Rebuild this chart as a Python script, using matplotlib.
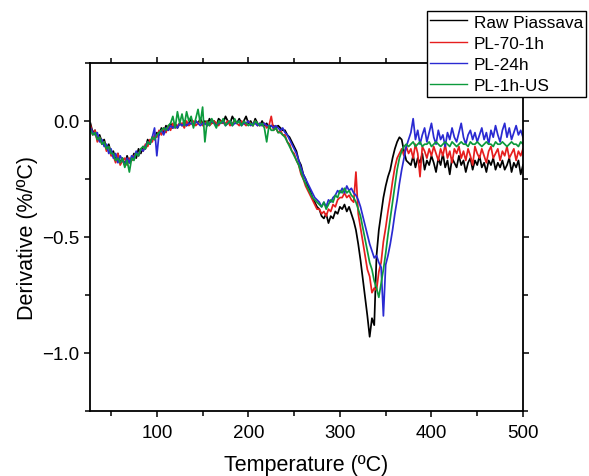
import numpy as np
import matplotlib
matplotlib.use("Agg")
import matplotlib.pyplot as plt
from matplotlib.ticker import MultipleLocator

plt.rcParams['font.family'] = ['Liberation Sans', 'DejaVu Sans']

# Temperature grid (ºC), sampled every 2.5 ºC
t_start, t_stop, t_step = 27.5, 500.0, 2.5
temperature = np.arange(t_start, t_stop + t_step / 2, t_step)

# Derivative values, in hundredths of %/ºC
raw_piassava = [
    -1, -5, -4, -8, -6, -9, -8, -12, -10, -14,
    -13, -17, -14, -18, -16, -19, -15, -18, -17, -14,
    -16, -12, -14, -11, -12, -8, -10, -7, -8, -5,
    -6, -3, -5, -2, -4, -1, -3, -1, -3, -1,
    -2, 0, -2, -1, 1, -2, 0, -1, 1, -1,
    0, -2, 1, -1, 0, -2, 1, 0, -1, 2,
    0, -1, 2, 0, -1, 1, -1, 0, 2, -1,
    0, -2, 1, -1, -2, 0, -2, -1, -3, -2,
    -2, -3, -2, -3, -4, -4, -6, -7, -9, -11,
    -13, -17, -19, -23, -25, -28, -30, -33, -35, -37,
    -38, -41, -42, -40, -44, -41, -42, -39, -40, -37,
    -38, -36, -39, -37, -40, -43, -47, -53, -60, -68,
    -76, -84, -93, -85, -88, -58, -47, -40, -33, -28,
    -24, -21, -16, -12, -9, -7, -8, -13, -17, -18,
    -19, -15, -20, -16, -18, -14, -21, -17, -19, -15,
    -18, -22, -16, -19, -14, -20, -17, -23, -16, -18,
    -20, -15, -19, -17, -22, -18, -16, -21, -17, -19,
    -15, -20, -18, -22, -17, -19, -16, -21, -18, -20,
    -17, -21, -19, -16, -22, -18, -20, -17, -23, -19,
]
pl_70_1h = [
    -2, -6, -4, -9, -7, -10, -9, -13, -11, -15,
    -15, -18, -14, -19, -17, -16, -19, -16, -17, -15,
    -14, -15, -12, -13, -10, -11, -8, -9, -6, -7,
    -4, -6, -3, -5, -2, -4, -1, -3, -2, -1,
    -1, -3, 0, -2, -1, 0, -2, -1, 0, -2,
    -1, 0, -2, -1, 0, -1, -2, 0, -1, -1,
    0, -2, -1, 0, -1, -2, 0, -1, -2, 0,
    -1, -2, 0, -2, -1, -2, -1, -3, -2, 2,
    -4, -3, -5, -4, -6, -6, -9, -10, -13, -14,
    -17, -19, -23, -25, -28, -30, -32, -34, -36, -38,
    -38, -40, -39, -41, -38, -39, -36, -37, -34, -33,
    -33, -31, -33, -32, -34, -35, -22, -40, -46, -52,
    -58, -64, -67, -74, -72, -73, -65, -61, -52, -46,
    -39, -33, -26, -20, -16, -14, -12, -15, -11, -14,
    -12, -16, -10, -14, -24, -11, -13, -16, -12, -15,
    -11, -14, -17, -12, -15, -10, -16, -13, -18, -12,
    -14, -11, -16, -13, -17, -12, -15, -19, -11, -14,
    -16, -12, -15, -18, -13, -11, -16, -14, -12, -17,
    -13, -15, -11, -16, -14, -12, -17, -13, -15, -12,
]
pl_24h = [
    -3, -5, -6, -5, -9, -8, -11, -10, -14, -12,
    -16, -14, -18, -15, -17, -19, -16, -18, -15, -16,
    -13, -15, -12, -13, -11, -9, -10, -7, -3, -15,
    -5, -4, -6, -3, -4, -2, -3, -2, -3, -1,
    -2, -1, -2, -1, -1, -2, 0, -1, -2, -1,
    -1, -2, -1, 0, -1, -2, -1, -1, 0, -2,
    -1, 0, -2, -1, -1, 0, -2, -1, -1, 0,
    -2, -1, -1, -2, -1, -2, -1, -2, -2, -2,
    -3, -2, -3, -4, -3, -5, -6, -8, -10, -12,
    -14, -17, -20, -23, -25, -27, -29, -31, -33, -34,
    -35, -37, -35, -37, -34, -35, -33, -32, -30, -31,
    -29, -31, -28, -30, -29, -31, -32, -34, -37, -41,
    -45, -49, -53, -56, -59, -58, -61, -63, -84, -62,
    -58, -53, -47, -40, -34, -27, -21, -16, -11, -8,
    -5, 1, -8, -4, -10, -6, -3, -9, -5, -1,
    -7, -10, -4, -8, -6, -11, -5, -8, -3, -7,
    -9, -5, -1, -7, -10, -6, -4, -8, -5, -9,
    -6, -3, -8, -5, -10, -4, -7, -2, -6, -9,
    -4, -1, -7, -3, -8, -5, -2, -6, -4, -7,
]
pl_1h_us = [
    -4, -6, -5, -8, -7, -10, -9, -12, -11, -14,
    -14, -17, -16, -18, -16, -20, -17, -22, -16, -17,
    -14, -15, -12, -11, -12, -9, -10, -7, -8, -6,
    -5, -4, -3, -4, -2, -1, 2, -3, 4, -1,
    3, -2, 4, 0, 2, -3, 1, 5, -1, 6,
    -9, 0, -2, 1, -1, -3, 0, -1, 1, -2,
    -1, 0, -2, 1, -1, 0, -2, 0, -1, -2,
    -1, -2, 0, -1, -2, -1, -3, -9, -2, -4,
    -4, -3, -5, -5, -6, -7, -9, -11, -13, -15,
    -17, -19, -22, -25, -27, -29, -31, -33, -34, -35,
    -36, -37, -35, -38, -36, -34, -35, -32, -33, -30,
    -31, -29, -31, -30, -32, -33, -35, -38, -41, -46,
    -51, -56, -61, -64, -69, -72, -76, -70, -64, -57,
    -49, -42, -35, -28, -21, -16, -13, -11, -10, -11,
    -10, -9, -11, -10, -9, -11, -10, -10, -9, -11,
    -10, -9, -10, -11, -10, -9, -10, -11, -9, -10,
    -11, -10, -9, -10, -10, -11, -9, -10, -10, -9,
    -10, -11, -10, -9, -10, -10, -11, -9, -10, -10,
    -9, -10, -11, -10, -9, -10, -10, -11, -9, -10,
]

series_labels = ["Raw Piassava", "PL-70-1h", "PL-24h", "PL-1h-US"]
series_values = [raw_piassava, pl_70_1h, pl_24h, pl_1h_us]
series_colors = ["#000000", "#e61e1e", "#2a2ad2", "#0c9a3c"]

x_ticks = [100, 200, 300, 400, 500]
y_ticks = [0.0, -0.5, -1.0]

fig = plt.figure(figsize=(5.89, 4.77), dpi=100)
ax = fig.add_axes([90 / 589, 1 - 412 / 477, (523 - 90) / 589, (412 - 64) / 477])

for vals, lab, col in zip(series_values, series_labels, series_colors):
    ax.plot(temperature, np.array(vals) / 100.0, color=col, lw=1.25, label=lab)

ax.set_xlim(27, 500)
ax.set_ylim(-1.25, 0.25)
ax.set_xticks(x_ticks)
ax.set_yticks(y_ticks)
ax.xaxis.set_minor_locator(MultipleLocator(50))
ax.yaxis.set_minor_locator(MultipleLocator(0.25))
ax.tick_params(which='both', direction='out', top=True, right=True,
               labeltop=False, labelright=False, width=1.1, labelsize=13.5)
ax.tick_params(axis='x', pad=5)
ax.tick_params(axis='y', pad=3)
ax.tick_params(which='major', length=4.5)
ax.tick_params(which='minor', length=3.5)
for s in ax.spines.values():
    s.set_linewidth(1.3)

ax.set_xlabel("Temperature (ºC)", fontsize=15.5, labelpad=9)
ax.set_ylabel("Derivative (%/ºC)", fontsize=15.5, labelpad=3)

leg = fig.legend(loc='upper left', bbox_to_anchor=(427 / 589, 1 - 12 / 477),
                 fontsize=12.4, frameon=True, fancybox=False, framealpha=1,
                 edgecolor='black', borderpad=0.2, borderaxespad=0,
                 handlelength=2.15, handletextpad=0.35, labelspacing=0.36)
leg.get_frame().set_linewidth(1.0)
for line in leg.get_lines():
    line.set_linewidth(1.0)

fig.savefig("out.png", dpi=100)
